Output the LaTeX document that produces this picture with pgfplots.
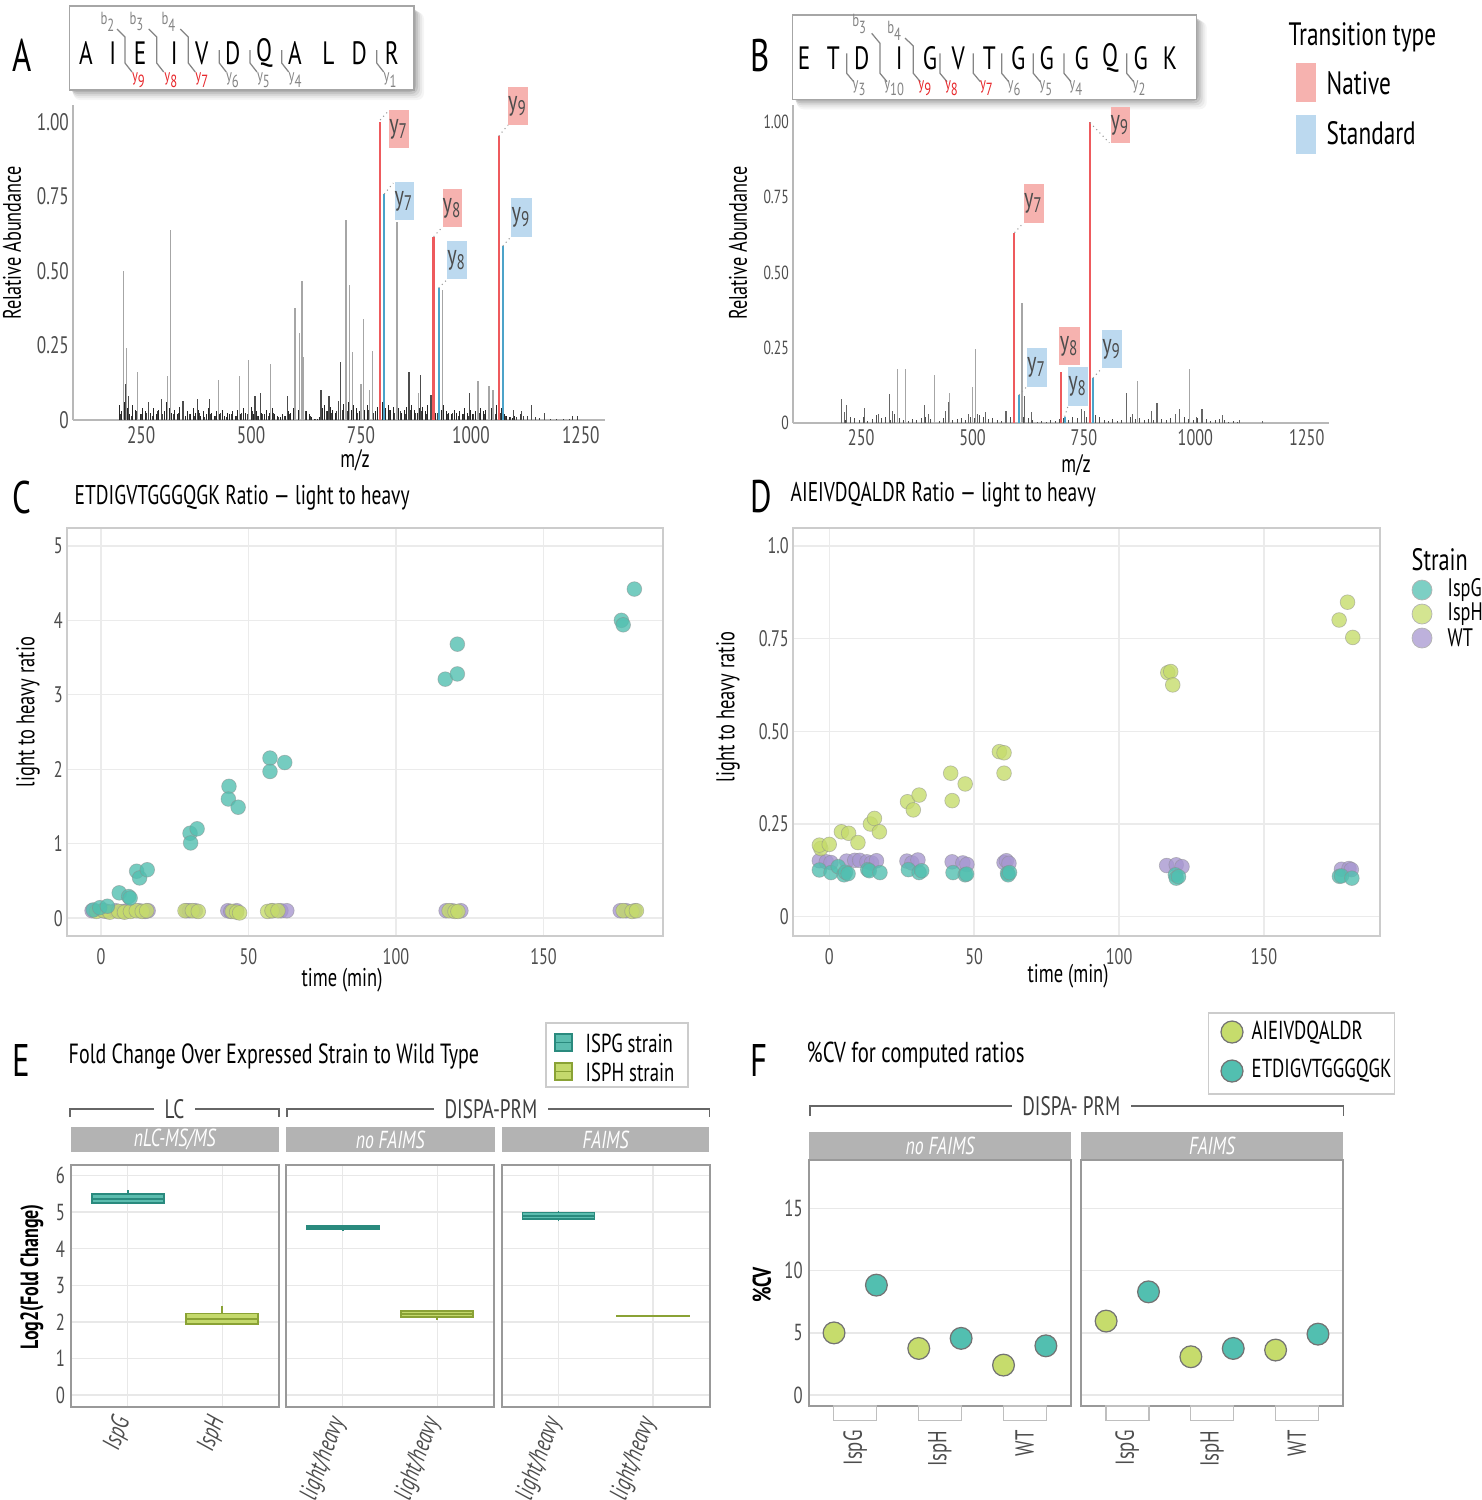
\documentclass[border=0pt]{standalone}
\usepackage{fontspec}
\setmainfont{PT Sans}[FakeStretch=0.72]
\usepackage{pgfplots}
\pgfplotsset{compat=1.18}
\usepgfplotslibrary{statistics}
\definecolor{cteal}{HTML}{52BFB0}
\definecolor{cgreen}{HTML}{C6DC6C}
\definecolor{cpurple}{HTML}{A797D0}
\definecolor{bteal}{HTML}{5CBDAF}
\definecolor{bteald}{HTML}{2A8A7E}
\definecolor{bgreen}{HTML}{C4D96C}
\definecolor{bgreend}{HTML}{8AA235}
\definecolor{natbox}{HTML}{F6B2AF}
\definecolor{natline}{HTML}{EE5A5D}
\definecolor{stdbox}{HTML}{BCD9EF}
\definecolor{stdline}{HTML}{4CA3C9}
\definecolor{tgray}{HTML}{4D4D4D}
\definecolor{pkgray}{HTML}{A6A6A6}
\definecolor{stripgray}{HTML}{B3B3B3}
\definecolor{fraggray}{HTML}{858585}
\definecolor{fragred}{HTML}{E8282C}
\newcommand\fs[1]{\fontsize{#1}{#1}\selectfont}
\pgfplotsset{
 spec/.style={scale only axis, anchor=south west, clip=false,
  axis x line=bottom, axis y line=left,
  axis line style={-, draw=black!28, line width=0.6pt},
  major tick length=0pt, tick label style={text=tgray},
  yticklabel style={inner xsep=1pt}, xticklabel style={inner ysep=1.5pt},
  xtick={250,500,750,1000,1250}, xticklabels={250,500,750,1000,1250},
  ytick={0,0.25,0.5,0.75,1}, yticklabels={0,0.25,0.50,0.75,1.00}},
 ggl/.style={scale only axis, anchor=south west,
  axis line style={draw=black!20, line width=0.5pt},
  major tick length=0pt, tick label style={text=tgray},
  yticklabel style={inner xsep=1pt},
  grid=major, major grid style={draw=black!8, line width=0.4pt}},
 facet/.style={scale only axis, anchor=south west,
  axis line style={draw=black!40, line width=0.6pt},
  major tick length=0pt, tick label style={text=tgray},
  yticklabel style={inner xsep=1.5pt},
  major grid style={draw=black!9, line width=0.4pt}},
 ptG/.style={only marks, mark=*, mark size=2.1pt, mark options={fill=cteal, draw=black!45, fill opacity=0.8, draw opacity=0.5, line width=0.2pt}},
 ptH/.style={only marks, mark=*, mark size=2.1pt, mark options={fill=cgreen, draw=black!45, fill opacity=0.8, draw opacity=0.5, line width=0.2pt}},
 ptW/.style={only marks, mark=*, mark size=2.1pt, mark options={fill=cpurple, draw=black!45, fill opacity=0.8, draw opacity=0.5, line width=0.2pt}},
 ptF/.style={only marks, mark=*, mark size=3.1pt, mark options={fill=#1, draw=black!55, line width=0.35pt}},
}
\begin{document}
\begin{tikzpicture}
\path[use as bounding box] (0,0) rectangle (148.2mm,-150mm);

% ================= Panel A spectrum =================
\begin{axis}[spec, at={(7.3mm,-42.0mm)}, width=53.2mm, height=31.5mm,
  xmin=95, xmax=1305, ymin=0, ymax=1.056, tick label style={font=\fs{6.8}}]
\addplot[ycomb, draw=black!85, line width=0.28pt] coordinates {
(200,.05)(206,.03)(212,.06)(218,.04)(224,.02)(230,.05)(236,.035)(242,.045)(248,.02)(254,.04)(260,.03)(266,.05)(272,.025)(278,.04)(284,.02)(290,.035)(296,.05)(302,.03)(308,.06)(314,.04)(320,.025)(326,.035)(332,.02)(338,.045)(344,.03)(350,.015)(356,.03)(362,.02)(368,.04)(374,.025)(380,.035)(386,.015)(392,.03)(398,.02)(404,.04)(410,.025)(416,.015)(422,.03)(428,.02)(434,.035)(440,.015)(446,.025)(452,.02)(458,.03)(464,.015)(470,.035)(476,.02)(482,.04)(488,.025)(494,.03)(500,.045)(506,.02)(512,.03)(518,.015)(524,.025)(530,.02)(536,.035)(542,.025)(548,.04)(554,.02)(560,.015)(566,.01)(572,.02)(578,.015)(584,.03)(590,.025)(596,.04)(602,.05)(608,.035)(614,.06)(620,.045)(626,.03)(632,.02)(638,.01)(644,.005)(650,.005)(656,.01)(662,.04)(668,.05)(674,.03)(680,.045)(686,.035)(692,.025)(698,.05)(704,.04)(710,.055)(716,.045)(722,.06)(728,.035)(734,.05)(740,.04)(746,.03)(752,.045)(758,.035)(764,.05)(770,.04)(776,.055)(782,.03)(788,.045)(794,.05)(800,.06)(806,.04)(812,.05)(818,.035)(824,.045)(830,.03)(836,.04)(842,.025)(848,.035)(854,.045)(860,.03)(866,.05)(872,.035)(878,.025)(884,.04)(890,.045)(896,.03)(902,.05)(908,.035)(914,.04)(920,.025)(926,.045)(932,.035)(938,.05)(944,.03)(950,.025)(956,.02)(962,.035)(968,.025)(974,.03)(980,.02)(986,.04)(992,.025)(998,.035)(1004,.02)(1010,.03)(1016,.025)(1022,.04)(1028,.03)(1034,.035)(1040,.025)(1046,.04)(1052,.03)(1058,.05)(1064,.035)(1070,.04)(1076,.02)(1082,.015)(1088,.01)(1094,.008)(1100,.012)};
\addplot[ycomb, draw=black!75, line width=0.28pt] coordinates {
(203,.02)(215,.035)(227,.015)(239,.03)(251,.02)(263,.025)(275,.015)(287,.03)(299,.02)(311,.04)(323,.02)(335,.025)(347,.015)(359,.02)(371,.015)(383,.025)(395,.01)(407,.02)(419,.015)(431,.025)(443,.01)(455,.02)(467,.015)(479,.025)(491,.02)(503,.03)(515,.015)(527,.02)(539,.015)(551,.025)(563,.01)(575,.015)(587,.02)(599,.03)(611,.025)(623,.03)(635,.015)(647,.005)(659,.02)(671,.03)(683,.025)(695,.03)(707,.035)(719,.03)(731,.04)(743,.025)(755,.03)(767,.035)(779,.025)(791,.04)(803,.03)(815,.035)(827,.025)(839,.03)(851,.02)(863,.035)(875,.025)(887,.03)(899,.02)(911,.035)(923,.025)(935,.03)(947,.02)(959,.025)(971,.015)(983,.02)(995,.015)(1007,.02)(1019,.025)(1031,.02)(1043,.03)(1055,.02)(1067,.025)(1079,.015)(1091,.01)
(1104,.01)(1112,.02)(1120,.015)(1128,.012)(1146,.01)(1155,.008)(1180,.005)(1195,.005)(1210,.004)(1225,.004)(1232,.012)(1243,.012)};
\addplot[ycomb, draw=pkgray, line width=0.35pt] coordinates {
(209,0.50)(216,0.24)(242,0.16)(310,0.148)(316,0.637)(426,0.134)(473,0.148)(495,0.20)(545,0.188)(600,0.375)(610,0.293)(616,0.467)(620,0.21)(716,0.67)(724,0.453)(731,0.229)(750,0.12)(756,0.338)(770,0.1)(776,0.23)(832,0.665)(880,0.09)(936,0.436)(1016,0.13)(1041,0.115)(1050,0.10)};
\addplot[ycomb, draw=black!70, line width=0.35pt] coordinates {
(214,0.12)(222,0.08)(266,0.06)(297,0.07)(345,0.065)(379,0.07)(406,0.07)(509,0.08)(522,0.09)(583,0.08)(659,0.1)(677,0.08)(698,0.065)(704,0.195)(859,0.16)(886,0.15)(909,0.085)(997,0.09)(1097,0.035)(1115,0.03)(1138,0.05)(1168,0.025)};
\addplot[ycomb, draw=natline, line width=0.6pt] coordinates {(793,1.0)(915,0.614)(1063,0.952)};
\addplot[ycomb, draw=stdline, line width=0.6pt] coordinates {(803,0.757)(927,0.442)(1072,0.583)};
\end{axis}

% ================= Panel B spectrum =================
\begin{axis}[spec, at={(79.3mm,-42.3mm)}, width=53.6mm, height=31.8mm,
  xmin=97, xmax=1300, ymin=0, ymax=1.056, xticklabel style={font=\fs{6.4}}, yticklabel style={font=\fs{5.4}}]
\addplot[ycomb, draw=black!70, line width=0.25pt] coordinates {
(205,.03)(215,.01)(225,.02)(235,.015)(245,.01)(255,.02)(265,.008)(275,.012)(285,.025)(295,.015)(305,.02)(315,.01)(325,.03)(335,.015)(345,.01)(355,.008)(365,.012)(375,.01)(385,.015)(395,.02)(405,.012)(415,.01)(425,.008)(435,.015)(445,.02)(455,.01)(465,.012)(475,.015)(485,.01)(495,.02)(505,.015)(515,.025)(525,.02)(535,.012)(545,.015)(555,.01)(565,.008)(575,.015)(585,.02)(595,.025)(605,.03)(615,.02)(625,.015)(635,.01)(645,.005)(655,.008)(665,.005)(675,.01)(685,.008)(695,.012)(705,.015)(715,.01)(725,.02)(735,.015)(745,.025)(755,.02)(765,.015)(775,.025)(785,.02)(795,.01)(805,.008)(815,.012)(825,.008)(835,.01)(845,.015)(855,.02)(865,.012)(875,.015)(885,.01)(895,.012)(905,.01)(915,.008)(925,.012)(935,.01)(945,.015)(955,.02)(965,.015)(975,.02)(985,.012)(995,.01)(1005,.015)(1015,.01)(1025,.012)(1035,.008)(1045,.01)(1055,.012)(1065,.01)(1075,.005)(1085,.008)(1095,.005)};
\addplot[ycomb, draw=black!60, line width=0.3pt] coordinates {
(206,0.08)(212,0.035)(218,0.06)(257,0.05)(288,0.03)(314,0.095)(320,0.04)(393,0.06)(402,0.03)(440,0.04)(446,0.07)(490,0.03)(512,0.03)(530,0.035)(575,0.04)(616,0.09)(633,0.035)(745,0.045)(752,0.04)(846,0.10)(858,0.03)(902,0.04)(914,0.065)(955,0.03)(965,0.045)(1002,0.02)(1015,0.045)(1061,0.025)(1100,0.01)(1150,0.008)};
\addplot[ycomb, draw=pkgray, line width=0.35pt] coordinates {
(332,0.18)(350,0.18)(415,0.16)(449,0.10)(500,0.12)(506,0.245)(611,0.40)(871,0.14)(987,0.18)};
\addplot[ycomb, draw=natline, line width=0.6pt] coordinates {(594,0.632)(698,0.17)(763,1.0)};
\addplot[ycomb, draw=stdline, line width=0.6pt] coordinates {(604,0.093)(707,0.02)(770,0.15)};
\end{axis}

% ================= Panel C =================
\begin{axis}[ggl, at={(6.7mm,-93.6mm)}, width=59.6mm, height=40.8mm,
  xmin=-11.5, xmax=190.5, ymin=-0.24, ymax=5.24,
  xtick={0,50,100,150}, xticklabels={0,50,100,150},
  ytick={0,1,2,3,4,5}, yticklabels={0,1,2,3,4,5}, tick label style={font=\fs{6.4}}]
\addplot[ptW] coordinates {(-3,0.1)(0.5,0.1)(2,0.09)(5,0.1)(7.5,0.09)(9,0.1)(13,0.1)(15,0.09)(16,0.1)(29,0.1)(30,0.1)(32,0.1)(43,0.1)(44,0.09)(46,0.1)(58,0.1)(61,0.1)(63,0.1)(117,0.1)(119,0.1)(122,0.1)(176,0.1)(178,0.1)(181,0.1)};
\addplot[ptH] coordinates {(-1.5,0.09)(1,0.1)(3,0.08)(6,0.09)(8,0.08)(10,0.09)(12,0.1)(14,0.09)(15.5,0.1)(28.5,0.1)(31,0.1)(33,0.09)(44.5,0.09)(46,0.08)(47,0.07)(56.5,0.09)(58,0.1)(60,0.1)(118,0.1)(120,0.09)(121,0.09)(177,0.1)(180,0.09)(181.5,0.1)};
\addplot[ptG] coordinates {(-2.6,0.11)(-0.4,0.14)(2.2,0.16)(6.2,0.34)(9.4,0.29)(9.9,0.27)(12.1,0.63)(13.1,0.54)(15.7,0.65)(30.2,1.14)(30.4,1.01)(32.6,1.20)(43.4,1.77)(43.2,1.60)(46.5,1.49)(57.3,2.15)(57.3,1.97)(62.3,2.09)(116.7,3.21)(120.8,3.28)(120.8,3.68)(176.4,4.00)(177,3.94)(180.8,4.42)};
\end{axis}

% ================= Panel D =================
\begin{axis}[ggl, at={(79.3mm,-93.6mm)}, width=58.7mm, height=40.8mm,
  xmin=-12.5, xmax=190, ymin=-0.052, ymax=1.048,
  xtick={0,50,100,150}, xticklabels={0,50,100,150},
  ytick={0,0.25,0.5,0.75,1}, yticklabels={0,0.25,0.50,0.75,1.0}, tick label style={font=\fs{6.4}}]
\addplot[ptW] coordinates {(-3.4,0.151)(-1,0.148)(0.6,0.146)(6,0.15)(8.8,0.152)(10.5,0.152)(13,0.148)(14.6,0.145)(16.3,0.151)(26.8,0.15)(28.5,0.145)(30.6,0.153)(42.4,0.148)(46.1,0.145)(47.5,0.141)(60.3,0.146)(61.1,0.151)(62,0.144)(116.4,0.138)(119.7,0.14)(121.7,0.135)(176.7,0.128)(179.3,0.13)(180.1,0.127)};
\addplot[ptG] coordinates {(-3.4,0.126)(0.6,0.119)(3.1,0.135)(5.1,0.113)(5.6,0.12)(6.5,0.116)(13.3,0.127)(13.8,0.124)(17.5,0.119)(27.3,0.127)(31,0.119)(31.9,0.124)(42.7,0.119)(46.9,0.113)(47.4,0.115)(61.5,0.117)(61.7,0.113)(62.2,0.119)(119.4,0.113)(119.7,0.104)(120.5,0.108)(176,0.109)(176.7,0.11)(180.3,0.104)};
\addplot[ptH] coordinates {(-2.9,0.184)(-3.4,0.193)(0,0.195)(4.2,0.229)(6.7,0.225)(9.9,0.2)(14.2,0.25)(15.6,0.265)(17.3,0.229)(27,0.31)(29,0.288)(31,0.328)(41.9,0.387)(42.4,0.313)(46.9,0.358)(58.7,0.445)(60.3,0.442)(60.3,0.387)(116.8,0.658)(117.8,0.661)(118.5,0.625)(175.9,0.80)(178.8,0.848)(180.6,0.753)};
\end{axis}

% ================= Panel E =================
\pgfplotsset{eax/.style={facet, width=20.8mm, height=24.17mm, xmin=0.4, xmax=2.6, ymin=-0.32, ymax=6.29,
  xtick={1,2}, ytick={0,1,2,3,4,5,6}, grid=major,
  xticklabel style={font=\fs{7.4}\itshape, text=tgray, rotate=70, anchor=east},
  yticklabel style={font=\fs{6.6}}},
  bxT/.style={fill=bteal, draw=bteald, line width=0.5pt},
  bxH/.style={fill=bgreen, draw=bgreend, line width=0.5pt}}
\begin{axis}[eax, at={(7.1mm,-140.67mm)}, xticklabels={IspG,IspH}, yticklabels={0,1,2,3,4,5,6}]
\addplot[bxT, boxplot prepared={draw direction=y, draw position=1, lower whisker=5.25, lower quartile=5.26, median=5.37, upper quartile=5.49, upper whisker=5.6, box extend=0.76, whisker extend=0}] coordinates {};
\addplot[bxH, boxplot prepared={draw direction=y, draw position=2, lower whisker=1.94, lower quartile=1.94, median=2.07, upper quartile=2.23, upper whisker=2.44, box extend=0.76, whisker extend=0}] coordinates {};
\end{axis}
\begin{axis}[eax, at={(28.6mm,-140.67mm)}, xticklabels={light/heavy,light/heavy}, yticklabels={}]
\addplot[bxT, boxplot prepared={draw direction=y, draw position=1, lower whisker=4.49, lower quartile=4.54, median=4.58, upper quartile=4.62, upper whisker=4.62, box extend=0.76, whisker extend=0}] coordinates {};
\addplot[bxH, boxplot prepared={draw direction=y, draw position=2, lower whisker=2.05, lower quartile=2.14, median=2.22, upper quartile=2.30, upper whisker=2.30, box extend=0.76, whisker extend=0}] coordinates {};
\end{axis}
\begin{axis}[eax, at={(50.18mm,-140.67mm)}, xticklabels={light/heavy,light/heavy}, yticklabels={}]
\addplot[bxT, boxplot prepared={draw direction=y, draw position=1, lower whisker=4.75, lower quartile=4.81, median=4.90, upper quartile=4.99, upper whisker=5.02, box extend=0.76, whisker extend=0}] coordinates {};
\addplot[bxH, boxplot prepared={draw direction=y, draw position=2, lower whisker=2.155, lower quartile=2.155, median=2.16, upper quartile=2.165, upper whisker=2.165, box extend=0.76, whisker extend=0}] coordinates {};
\end{axis}

% ================= Panel F =================
\pgfplotsset{fax/.style={facet, width=26.27mm, height=24.6mm, xmin=0.45, xmax=3.55, ymin=-0.88, ymax=18.9,
  xtick={1,2,3}, xticklabels={IspG,IspH,WT}, ytick={0,5,10,15}, ymajorgrids,
  xticklabel style={font=\fs{7.4}, text=tgray, yshift=-1.2mm, rotate=90, anchor=east},
  yticklabel style={font=\fs{6.6}}}}
\begin{axis}[fax, at={(80.86mm,-140.6mm)}, yticklabels={0,5,10,15}]
\addplot[ptF=cgreen] coordinates {(0.75,5.0)(1.75,3.75)(2.75,2.41)};
\addplot[ptF=cteal] coordinates {(1.25,8.84)(2.25,4.56)(3.25,3.96)};
\end{axis}
\begin{axis}[fax, at={(108.07mm,-140.6mm)}, yticklabels={}]
\addplot[ptF=cgreen] coordinates {(0.75,5.95)(1.75,3.08)(2.75,3.62)};
\addplot[ptF=cteal] coordinates {(1.25,8.3)(2.25,3.75)(3.25,4.9)};
\end{axis}

% ================= Overlays in pixel coordinates =================
\begin{scope}[x=0.1mm, y=-0.1mm, every node/.append style={inner sep=0pt}]
% panel letters
\node[anchor=west, font=\fs{13}] at (12,55) {A};
\node[anchor=west, font=\fs{13}] at (750,55) {B};
\node[anchor=west, font=\fs{13}] at (12,497) {C};
\node[anchor=west, font=\fs{13}] at (750,497) {D};
\node[anchor=west, font=\fs{13}] at (12,1060) {E};
\node[anchor=west, font=\fs{13}] at (750,1060) {F};
% titles
\node[anchor=west, font=\fs{7.7}] at (74,498) {ETDIGVTGGGQGK Ratio — light to heavy};
\node[anchor=west, font=\fs{7.7}] at (790,495) {AIEIVDQALDR Ratio — light to heavy};
\node[anchor=west, font=\fs{7.9}] at (68,1057) {Fold Change Over Expressed Strain to Wild Type};
\node[anchor=west, font=\fs{8.2}] at (806,1055) {\%CV for computed ratios};
% axis labels
\node[rotate=90, font=\fs{7.2}] at (12,243) {Relative Abundance};
\node[font=\fs{7.2}] at (355,460) {m/z};
\node[rotate=90, font=\fs{7.2}] at (738,243) {Relative Abundance};
\node[font=\fs{7.2}] at (1076,465) {m/z};
\node[rotate=90, font=\fs{7.3}] at (28,712) {light to heavy ratio};
\node[font=\fs{7.3}] at (342,980) {time (min)};
\node[rotate=90, font=\fs{7.3}] at (728,707) {light to heavy ratio};
\node[font=\fs{7.3}] at (1068,976) {time (min)};
\node[rotate=90, font=\fs{7.1}\bfseries] at (32,1277) {Log2(Fold Change)};
\node[rotate=90, font=\fs{7.3}\bfseries] at (762,1285) {\%CV};

% ---- sequence box A ----
\foreach \d/\o in {10/0.04,8/0.05,6/0.07,4/0.09,2/0.1}
  \fill[black, opacity=\o, rounded corners=2] (69.3+\d*0.4, 6+\d*0.6) rectangle (414+\d, 90+\d);
\fill[white] (69.3,6) rectangle (414,90);
\draw[black!35, line width=0.4pt] (69.3,6) rectangle (414,90);
\foreach \x/\l in {86/A,112.7/I,140/E,174.3/I,201.7/V,232.7/D,264/Q,295/A,328.3/L,359.3/D,391.7/R}
  \node[font=\fs{9.2}] at (\x,53) {\l};
\begin{scope}[draw=fraggray, line width=0.35pt]
\foreach \s in {125,156.7,188.3} \draw (\s-8,29)--(\s,37)--(\s,63)--(\s+7,72);
\foreach \s in {219.3,250,281.7,376.7} \draw (\s,50)--(\s,63)--(\s+7,72);
\end{scope}
\foreach \x/\n in {108.3/2,137.3/3,169.3/4}
  \node[font=\fs{5}, text=fraggray] at (\x,21.7) {b\textsubscript{\n}};
\foreach \x/\n in {139.3/9,171.7/8,202.7/7}
  \node[font=\fs{5}, text=fragred] at (\x,80) {y\textsubscript{\n}};
\foreach \x/\n in {233.3/6,264.3/5,296/4,391/1}
  \node[font=\fs{5}, text=fraggray] at (\x,80) {y\textsubscript{\n}};

% ---- sequence box B ----
\foreach \d/\o in {10/0.04,8/0.05,6/0.07,4/0.09,2/0.1}
  \fill[black, opacity=\o, rounded corners=2] (792.7+\d*0.4, 15+\d*0.6) rectangle (1196.7+\d, 99.3+\d);
\fill[white] (792.7,15) rectangle (1196.7,99.3);
\draw[black!35, line width=0.4pt] (792.7,15) rectangle (1196.7,99.3);
\foreach \x/\l in {804/E,833.3/T,861.7/D,899.3/I,930/G,958.3/V,989.3/T,1018.3/G,1046.7/G,1081.7/G,1110/Q,1140.7/G,1170/K}
  \node[font=\fs{9.2}] at (\x,58.3) {\l};
\begin{scope}[draw=fraggray, line width=0.35pt]
\draw (871.7,33.3)--(880,43.3)--(880,73.3)--(887,81.7);
\draw (905,38)--(913.3,46)--(913.3,73.3)--(920.3,81.7);
\foreach \s in {846.7,940,973.3,1001.7,1033.3,1064,1126.7} \draw (\s,53.3)--(\s,73.3)--(\s+7,81.7);
\end{scope}
\node[font=\fs{5}, text=fraggray] at (860,24) {b\textsubscript{3}};
\node[font=\fs{5}, text=fraggray] at (895,30.7) {b\textsubscript{4}};
\foreach \x/\n in {925.7/9,952.3/8,987.3/7}
  \node[font=\fs{5}, text=fragred] at (\x,88.3) {y\textsubscript{\n}};
\foreach \x/\n in {860/3,895/10,1015/6,1046.7/5,1076.7/4,1140/2}
  \node[font=\fs{5}, text=fraggray] at (\x,88.3) {y\textsubscript{\n}};

% ---- ion label boxes ----
\begin{scope}[densely dotted, draw=black!40, line width=0.3pt]
\draw (380.2,120)--(389.3,110); \draw (384.2,194)--(393.3,183);
\draw (433.6,236.7)--(442.7,226.7); \draw (438.7,288)--(447.4,279.3);
\draw (498.8,136)--(508,125); \draw (502.8,246)--(511,236.7);
\draw (1090,122.7)--(1109.3,142.7); \draw (1014.5,232.7)--(1023.5,222.7);
\draw (1019,395)--(1026.7,386.7); \draw (1064.7,416.7)--(1068,406);
\draw (1093,378)--(1102,368);
\end{scope}
\newcommand\ionbox[6]{\fill[#1] (#2,#3) rectangle (#4,#5); \node[font=\fs{8}, text=black!70] at ({(#2+#4)/2},{(#3+#5)/2}) {y\textsubscript{#6}};}
\ionbox{natbox}{389}{110}{409}{148}{7}
\ionbox{stdbox}{394.5}{182}{414}{220}{7}
\ionbox{natbox}{442.7}{189}{462}{227}{8}
\ionbox{stdbox}{447}{241}{467}{279}{8}
\ionbox{natbox}{508}{87}{527.7}{125}{9}
\ionbox{stdbox}{511}{198}{531.6}{237}{9}
\ionbox{natbox}{1110.5}{107}{1130}{143}{9}
\ionbox{natbox}{1023.5}{184}{1044}{223}{7}
\ionbox{stdbox}{1026.7}{348}{1047}{387}{7}
\ionbox{natbox}{1059}{327}{1080}{365}{8}
\ionbox{stdbox}{1068}{367}{1088}{406}{8}
\ionbox{stdbox}{1102}{330}{1122}{368}{9}

% ---- transition type legend ----
\node[anchor=west, font=\fs{9.2}] at (1288,37) {Transition type};
\fill[natbox] (1296,63) rectangle (1316,102);
\fill[stdbox] (1296,115) rectangle (1316,154);
\node[anchor=west, font=\fs{9.2}] at (1326,83) {Native};
\node[anchor=west, font=\fs{9.2}] at (1326,133) {Standard};

% ---- Strain legend (D) ----
\node[anchor=west, font=\fs{8.8}] at (1411,560) {Strain};
\foreach \y/\c/\t in {590/cteal/IspG,614/cgreen/IspH,638/cpurple/WT}{
  \fill[\c, opacity=0.75] (1422,\y) circle (10);
  \draw[black!30, line width=0.2pt] (1422,\y) circle (10);
  \node[anchor=west, font=\fs{7.2}] at (1447,\y) {\t};}

% ---- E legend, brackets, strips ----
\draw[black!20, line width=0.5pt] (546,1022.7) rectangle (688,1086.7);
\filldraw[fill=bteal, draw=bteald, line width=0.5pt] (555,1034) rectangle (572,1051);
\draw[bteald, line width=0.5pt] (555,1042.5)--(572,1042.5);
\filldraw[fill=bgreen, draw=bgreend, line width=0.5pt] (555,1063) rectangle (572,1080);
\draw[bgreend, line width=0.5pt] (555,1071.5)--(572,1071.5);
\node[anchor=west, font=\fs{7.4}] at (585,1043) {ISPG strain};
\node[anchor=west, font=\fs{7.4}] at (585,1072) {ISPH strain};
\draw[black!60, line width=0.5pt] (70,1117)--(70,1109.3)--(278.7,1109.3)--(278.7,1117);
\node[fill=white, inner xsep=3pt, inner ysep=0.5pt, font=\fs{7.6}, text=black!75] at (174.5,1109.3) {LC};
\draw[black!60, line width=0.5pt] (287,1117)--(287,1109.3)--(709.4,1109.3)--(709.4,1117);
\node[fill=white, inner xsep=3pt, inner ysep=0.5pt, font=\fs{7.6}, text=black!75] at (491,1109.3) {DISPA-PRM};
\fill[stripgray] (71,1127.3) rectangle (278.7,1151.7);
\fill[stripgray] (286,1127.3) rectangle (494.5,1151.7);
\fill[stripgray] (501.8,1127.3) rectangle (709.4,1151.7);
\node[font=\fs{7}\itshape, text=white] at (174.8,1139.5) {nLC-MS/MS};
\node[font=\fs{7}\itshape, text=white] at (390.2,1139.5) {no FAIMS};
\node[font=\fs{7}\itshape, text=white] at (605.6,1139.5) {FAIMS};

% ---- F legend, bracket, strips ----
\draw[black!20, line width=0.5pt] (1208.5,1013.3) rectangle (1394.5,1094);
\filldraw[fill=cgreen, draw=black!55, line width=0.35pt] (1232,1032) circle (11);
\filldraw[fill=cteal, draw=black!55, line width=0.35pt] (1232,1071) circle (11);
\node[anchor=west, font=\fs{7.4}] at (1251,1033) {AIEIVDQALDR};
\node[anchor=west, font=\fs{7.4}] at (1251,1071) {ETDIGVTGGGQGK};
\draw[black!60, line width=0.5pt] (810,1116)--(810,1106)--(1343.4,1106)--(1343.4,1116);
\node[fill=white, inner xsep=3pt, inner ysep=0.5pt, font=\fs{7.6}, text=black!75] at (1071.3,1106) {DISPA- PRM};
\fill[stripgray] (808.6,1132.3) rectangle (1071.3,1159.3);
\fill[stripgray] (1080.7,1132.3) rectangle (1343.4,1159.3);
\node[font=\fs{7}\itshape, text=white] at (940,1145.8) {no FAIMS};
\node[font=\fs{7}\itshape, text=white] at (1212,1145.8) {FAIMS};
\foreach \c in {855.2,940,1024.7,1127.3,1212,1296.8}
  \draw[black!25, line width=0.4pt] (\c-21.5,1406) rectangle (\c+21.5,1420.7);
\end{scope}
\end{tikzpicture}
\end{document}
